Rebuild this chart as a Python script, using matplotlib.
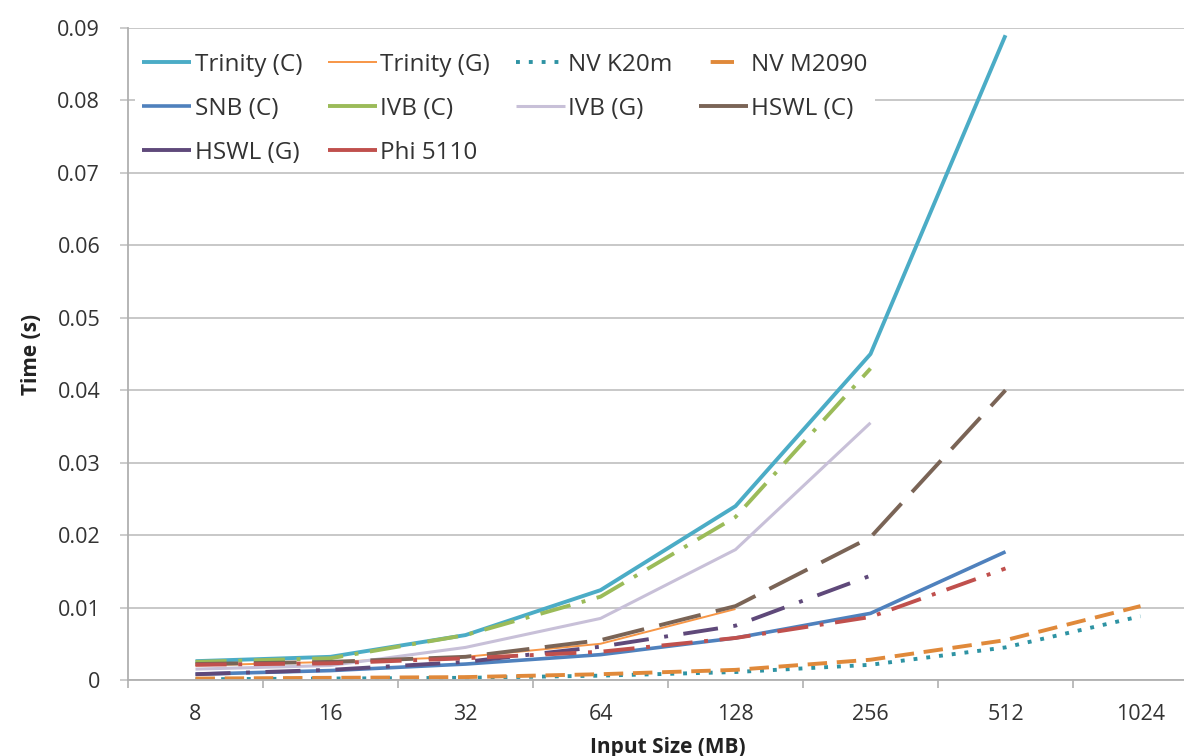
import matplotlib
matplotlib.use("Agg")
import matplotlib.pyplot as plt
from matplotlib.lines import Line2D

plt.rcParams["font.family"] = ["Open Sans", "DejaVu Sans"]

sizes = ["8", "16", "32", "64", "128", "256", "512", "1024"]

trinity_c = [0.0026, 0.0032, 0.0062, 0.0124, 0.024, 0.045, 0.089]
trinity_g = [0.002, 0.0025, 0.0032, 0.005, 0.0098]
nv_k20m = [0.0001, 0.0002, 0.0003, 0.0006, 0.0011, 0.0021, 0.0045, 0.0088]
nv_m2090 = [0.0002, 0.0003, 0.0004, 0.0008, 0.0014, 0.0028, 0.0055, 0.0102]
snb_c = [0.0008, 0.0013, 0.0022, 0.0035, 0.0058, 0.0092, 0.0177]
ivb_c = [0.0025, 0.003, 0.0062, 0.0115, 0.0225, 0.043]
ivb_g = [0.0015, 0.002, 0.0045, 0.0085, 0.018, 0.0355]
hswl_c = [0.0022, 0.0025, 0.0032, 0.0055, 0.0102, 0.0197, 0.040]
hswl_g = [0.0008, 0.0014, 0.0025, 0.0046, 0.0075, 0.0144]
phi_5110 = [0.0021, 0.0023, 0.003, 0.0039, 0.0058, 0.0087, 0.0154]

series = [
    ("Trinity (C)", trinity_c, "#4BACC6", "-", 2.8),
    ("Trinity (G)", trinity_g, "#F79646", "-", 1.4),
    ("NV K20m", nv_k20m, "#2E93A3", (0, (1, 2.3)), 2.8),
    ("NV M2090", nv_m2090, "#E0893A", (0, (5, 2.5)), 2.8),
    ("SNB (C)", snb_c, "#4F81BD", "-", 2.6),
    ("IVB (C)", ivb_c, "#9BBB59", (0, (8, 3, 1, 3)), 2.8),
    ("IVB (G)", ivb_g, "#C8C0D8", "-", 2.2),
    ("HSWL (C)", hswl_c, "#7A6456", (0, (11, 4)), 2.8),
    ("HSWL (G)", hswl_g, "#5F497A", (0, (9, 4, 1, 4)), 2.8),
    ("Phi 5110", phi_5110, "#C0504D", (0, (8, 3, 1, 3)), 2.8),
]

W, H = 1184, 756
fig = plt.figure(figsize=(W / 100, H / 100), dpi=100)
ax = fig.add_axes([128 / W, 76 / H, 1080 / W, 652 / H])

x = list(range(len(sizes)))
for label, vals, color, ls, lw in series:
    ax.plot(x[: len(vals)], vals, color=color, linestyle=ls, linewidth=lw, label=label,
            solid_capstyle="butt", dash_capstyle="butt")

ax.set_xlim(-0.5, len(sizes) - 0.5)
ax.set_ylim(0, 0.09)
ax.set_yticks([i / 100 for i in range(10)])
ax.set_yticklabels(["0"] + [f"{i / 100:.2f}" for i in range(1, 10)])
ax.set_xticks(x)
ax.set_xticklabels(sizes)
ax.set_xticks([i - 0.5 for i in range(len(sizes) + 1)], minor=True)
ax.tick_params(axis="x", which="major", length=0, pad=17, labelsize=15.5, labelcolor="#333333")
ax.tick_params(axis="x", which="minor", length=6, width=1.2, color="#b0b0b0")
ax.tick_params(axis="y", length=6, width=1.2, color="#c4c4c4", pad=14, labelsize=15.5,
               labelcolor="#333333")
ax.grid(axis="y", color="#c4c4c4", linewidth=1.3)
ax.set_axisbelow(True)
for side in ["top", "right"]:
    ax.spines[side].set_visible(False)
for side in ["left", "bottom"]:
    ax.spines[side].set_color("#b0b0b0")
    ax.spines[side].set_linewidth(1.3)

ax.set_xlabel("Input Size (MB)", fontsize=15, fontweight="bold", labelpad=9, color="#222222")
ax.set_ylabel("Time (s)", fontsize=15, fontweight="bold", labelpad=11, color="#222222")

# Excel-style legend keys: short keys look solid, except the dotted and dashed NV ones
def legend_key(color, ls, lw):
    if ls == (0, (5, 2.5)):
        ls = (23, (6, 20))
    elif not isinstance(ls, str) and ls != (0, (1, 2.3)):
        ls = "-"
    return Line2D([], [], color=color, linestyle=ls, linewidth=lw,
                  solid_capstyle="butt", dash_capstyle="butt")

keys = [legend_key(c, ls, lw) for _, _, c, ls, lw in series]

# legend is filled column by column, so reorder to read row by row like the original
order = [0, 4, 8, 1, 5, 9, 2, 6, 3, 7]
leg = ax.legend([keys[i] for i in order], [series[i][0] for i in order],
                ncol=4, loc="upper left", bbox_to_anchor=(0.0065, 0.973, 0.685, 0.0),
                mode="expand", frameon=True, fontsize=17.5, handlelength=2.0, handletextpad=0.15,
                labelspacing=0.82, borderaxespad=0.0, borderpad=0.3)
leg.get_frame().set_edgecolor("none")
leg.get_frame().set_facecolor("white")
leg.get_frame().set_alpha(1.0)
for t in leg.get_texts():
    t.set_color("#333333")

fig.savefig("out.png", dpi=100)
